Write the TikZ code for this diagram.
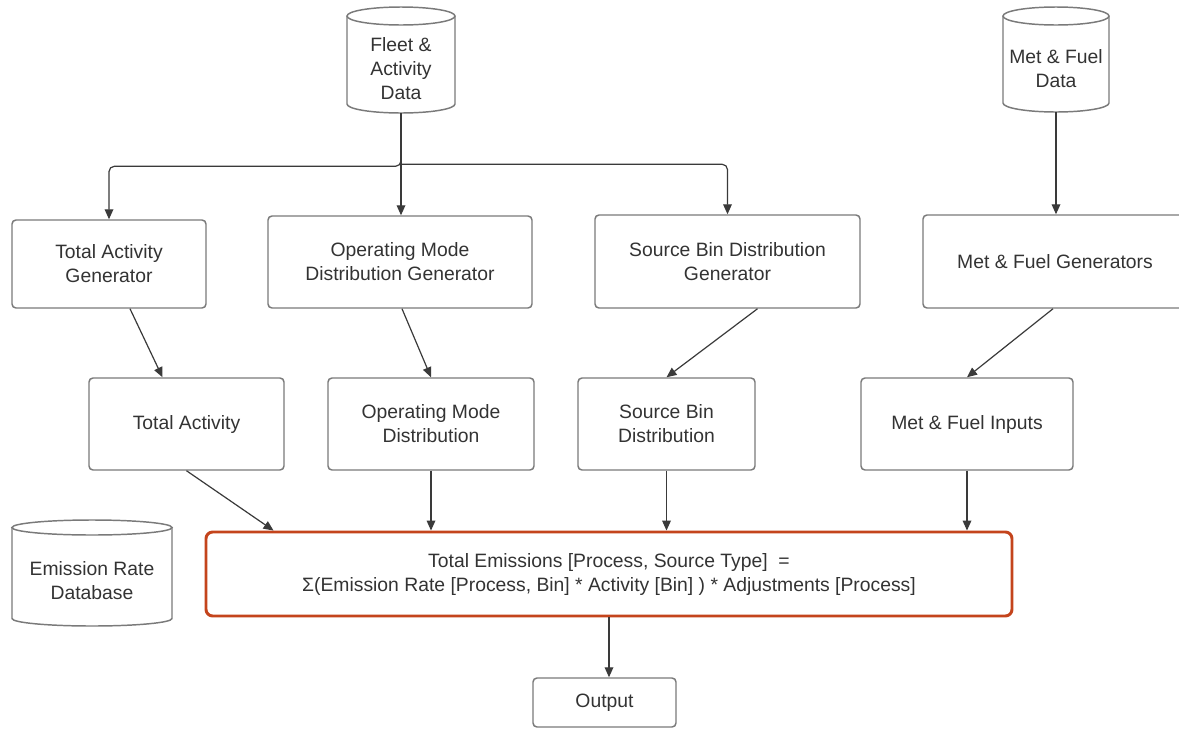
\documentclass[tikz,border=0pt]{standalone}
\usepackage{fontspec}
\setmainfont{Liberation Sans}
\usetikzlibrary{arrows.meta,calc}
\definecolor{txt}{HTML}{333333}
\definecolor{bord}{HTML}{7A7A7A}
\definecolor{arrc}{HTML}{3A3A3A}
\definecolor{hilite}{HTML}{C4441C}
\begin{document}
\begin{tikzpicture}[x=0.75pt,y=-0.75pt,
  box/.style={draw=bord, line width=1.1pt, rounded corners=3pt, fill=white, align=center, text=txt, font=\fontsize{14.5}{18}\selectfont, inner sep=0pt},
  lbl/.style={align=center, text=txt, font=\fontsize{14.5}{18}\selectfont, inner sep=0pt},
  cylline/.style={draw=bord, line width=1.1pt},
  conn/.style={draw=arrc, line width=0.9pt, -{Triangle[length=7.5pt,width=6.5pt]}},
]
\fill[white] (0,0) rectangle (1179,729);
\useasboundingbox (0,0) rectangle (1179,729);

% cylinders
\draw[cylline] (347,16) -- (347,104) arc[start angle=180,end angle=360,x radius=40.5pt,y radius=6.75pt] -- (455,16);
\draw[cylline] (401,16) ellipse[x radius=40.5pt,y radius=6.75pt];
\node[lbl, minimum width=81pt, minimum height=66pt] (fleet) at (401,69) {Fleet \&\\Activity\\Data};

\draw[cylline] (1003,16) -- (1003,103) arc[start angle=180,end angle=360,x radius=39.75pt,y radius=6.75pt] -- (1109,16);
\draw[cylline] (1056,16) ellipse[x radius=39.75pt,y radius=6.75pt];
\node[lbl, minimum width=79.5pt, minimum height=65.25pt] (metdata) at (1056,68.5) {Met \& Fuel\\Data};

\draw[cylline] (12,527.5) -- (12,618.5) arc[start angle=180,end angle=360,x radius=60pt,y radius=5.625pt] -- (172,527.5);
\draw[cylline] (92,527.5) ellipse[x radius=60pt,y radius=5.625pt];
\node[lbl, minimum width=120pt, minimum height=68pt] (erd) at (92,581) {Emission Rate\\Database};

% row 1
\node[box, minimum width=145.5pt, minimum height=66pt] (tag) at (109,264) {Total Activity\\Generator};
\node[box, minimum width=198pt, minimum height=69pt] (omdg) at (400,262) {Operating Mode\\Distribution Generator};
\node[box, minimum width=198.75pt, minimum height=69.75pt] (sbdg) at (727.5,261.5) {Source Bin Distribution\\Generator};
\node[box, minimum width=198pt, minimum height=69.75pt] (mfg) at (1055,261.5) {Met \& Fuel Generators};

% row 2
\node[box, minimum width=146.25pt, minimum height=69pt] (ta) at (186.5,424) {Total Activity};
\node[box, minimum width=154.5pt, minimum height=69pt] (omd) at (431,424) {Operating Mode\\Distribution};
\node[box, minimum width=132.75pt, minimum height=69pt] (sbd) at (666.5,424) {Source Bin\\Distribution};
\node[box, minimum width=159pt, minimum height=69pt] (mfi) at (967,424) {Met \& Fuel Inputs};

% total
\node[box, draw=hilite, line width=2.2pt, rounded corners=5pt, minimum width=604.5pt, minimum height=63pt] (tot) at (609,574)
  {Total Emissions [Process, Source Type]\ \ =\\Σ(Emission Rate [Process, Bin] * Activity [Bin] ) * Adjustments [Process]};

\node[box, minimum width=107.25pt, minimum height=36.75pt] (out) at (604.5,702.5) {Output};

% connectors
\draw[conn, rounded corners=4pt] (fleet.south) -- ($(fleet.south)+(0,53)$) -| (tag.north);
\draw[conn] (fleet.south) -- (fleet.south |- omdg.north);
\draw[conn, rounded corners=4pt] ($(fleet.south)+(0,51)$) -| (sbdg.north);
\draw[conn] (metdata.south) -- (metdata.south |- mfg.north);

\draw[conn] ($(tag.south)+(21,0)$) -- ($(ta.north)+(-24,0)$);
\draw[conn] ($(omdg.south)+(2,0)$) -- (omd.north);
\draw[conn] ($(sbdg.south)+(30,0)$) -- (sbd.north);
\draw[conn] ($(mfg.south)+(-2,0)$) -- (mfi.north);

\draw[conn] (ta.south) -- ($(tot.north west)+(69,0)$);
\draw[conn] (omd.south) -- (omd.south |- tot.north);
\draw[conn] (sbd.south) -- (sbd.south |- tot.north);
\draw[conn] (mfi.south) -- (mfi.south |- tot.north);
\draw[conn] (tot.south) -- (tot.south |- out.north);
\end{tikzpicture}
\end{document}
